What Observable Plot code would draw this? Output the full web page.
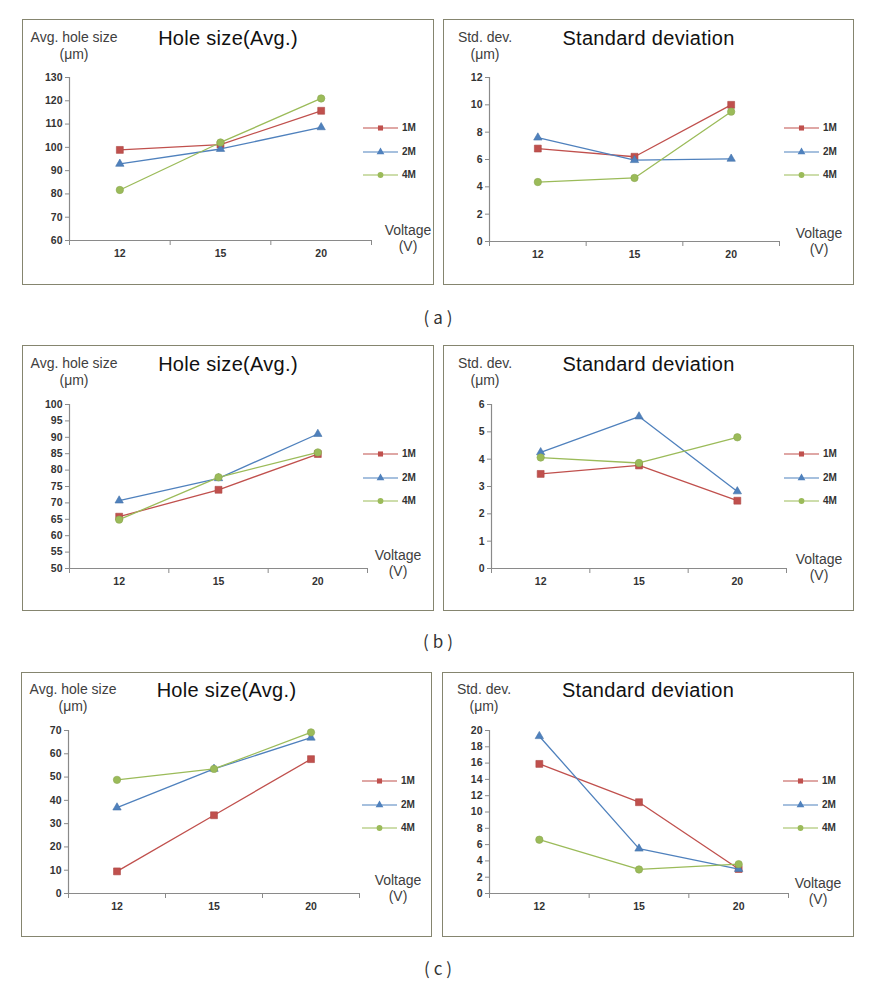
<!DOCTYPE html>
<html>
<head>
<meta charset="utf-8">
<script src="https://cdn.jsdelivr.net/npm/d3@7"></script>
<script src="https://cdn.jsdelivr.net/npm/@observablehq/plot@0.6"></script>
<style>
  html, body { margin: 0; padding: 0; background: #fff; }
  body { position: relative; width: 876px; height: 989px; overflow: hidden; font-family: "Liberation Sans", Arial, sans-serif; }
  .panel { position: absolute; background: #fff; }
  .frame { position: absolute; left: 0; top: 0; right: 0; bottom: 0; border: 1.5px solid #85856f; pointer-events: none; }
  .panel svg.chart { position: absolute; left: 0; top: 0; }
  .title { position: absolute; left: 0; right: 0; text-align: center; font-size: 20px; line-height: 22px; letter-spacing: 0.3px; color: #111; white-space: nowrap; }
  .ylab { position: absolute; width: 120px; text-align: center; font-size: 14px; line-height: 17px; color: #404040; white-space: nowrap; }
  .volt { position: absolute; width: 80px; text-align: center; font-size: 14px; line-height: 16px; color: #404040; white-space: nowrap; }
  .legend { position: absolute; }
  .legrow { position: absolute; left: 0; height: 10px; white-space: nowrap; }
  .legrow svg { position: absolute; left: 0; top: 0; }
  .legrow span { position: absolute; left: 39px; top: -1px; font-size: 10px; font-weight: bold; color: #333; line-height: 12px; }
  .sub { position: absolute; width: 80px; text-align: center; font-family: "Noto Sans CJK KR", "Noto Sans", sans-serif; font-size: 17px; line-height: 20px; letter-spacing: 4px; text-indent: 4px; color: #333; }
</style>
</head>
<body>
<script>
// ---------- data ----------
const voltages = ["12", "15", "20"];
const seriesNames = ["1M", "2M", "4M"];
const seriesColors = ["#C0504D", "#4F81BD", "#9BBB59"];
const seriesSymbols = ["square", "triangle", "circle"];

// (a)
const aAvg1M = [98.9, 101.2, 115.7];
const aAvg2M = [92.9, 99.3, 108.6];
const aAvg4M = [81.7, 102.1, 121.0];
const aAvgTicks = [60, 70, 80, 90, 100, 110, 120, 130];
const aStd1M = [6.8, 6.2, 10.0];
const aStd2M = [7.6, 5.95, 6.05];
const aStd4M = [4.35, 4.65, 9.5];
const aStdTicks = [0, 2, 4, 6, 8, 10, 12];

// (b)
const bAvg1M = [65.8, 74.0, 84.9];
const bAvg2M = [70.7, 77.5, 91.0];
const bAvg4M = [64.9, 77.8, 85.4];
const bAvgTicks = [50, 55, 60, 65, 70, 75, 80, 85, 90, 95, 100];
const bStd1M = [3.46, 3.77, 2.48];
const bStd2M = [4.25, 5.56, 2.82];
const bStd4M = [4.06, 3.86, 4.8];
const bStdTicks = [0, 1, 2, 3, 4, 5, 6];

// (c)
const cAvg1M = [9.5, 33.6, 57.7];
const cAvg2M = [36.9, 53.5, 66.9];
const cAvg4M = [48.8, 53.5, 69.2];
const cAvgTicks = [0, 10, 20, 30, 40, 50, 60, 70];
const cStd1M = [15.9, 11.2, 3.0];
const cStd2M = [19.3, 5.5, 3.0];
const cStd4M = [6.6, 2.95, 3.6];
const cStdTicks = [0, 2, 4, 6, 8, 10, 12, 14, 16, 18, 20];

const avgTitle = "Hole size(Avg.)";
const stdTitle = "Standard deviation";
const avgYLabel = ["Avg. hole size", "(μm)"];
const stdYLabel = ["Std. dev.", "(μm)"];
const xLabel = ["Voltage", "(V)"];
const subLabels = ["(a)", "(b)", "(c)"];

// ---------- layout ----------
const panels = [
  {left: 22, top: 19, w: 412, h: 266, title: avgTitle, ylab: avgYLabel, yc: 52, yt: 10, titleTop: 8,
   series: [aAvg1M, aAvg2M, aAvg4M], ticks: aAvgTicks, m: [58, 63, 45, 47], vc: 386, vt: 203},
  {left: 443, top: 19, w: 411, h: 266, title: stdTitle, ylab: stdYLabel, yc: 42, yt: 10, titleTop: 8,
   series: [aStd1M, aStd2M, aStd4M], ticks: aStdTicks, m: [58, 75, 44, 46], vc: 376, vt: 206},
  {left: 22, top: 345, w: 412, h: 266, title: avgTitle, ylab: avgYLabel, yc: 52, yt: 10, titleTop: 8,
   series: [bAvg1M, bAvg2M, bAvg4M], ticks: bAvgTicks, m: [59, 67, 43, 47], vc: 376, vt: 202},
  {left: 443, top: 345, w: 411, h: 266, title: stdTitle, ylab: stdYLabel, yc: 42, yt: 10, titleTop: 8,
   series: [bStd1M, bStd2M, bStd4M], ticks: bStdTicks, m: [59, 68, 43, 48], vc: 376, vt: 206},
  {left: 21, top: 672, w: 411, h: 265, title: avgTitle, ylab: avgYLabel, yc: 52, yt: 9, titleTop: 7,
   series: [cAvg1M, cAvg2M, cAvg4M], ticks: cAvgTicks, m: [58, 73, 44, 47], vc: 377, vt: 200},
  {left: 442, top: 672, w: 412, h: 265, title: stdTitle, ylab: stdYLabel, yc: 42, yt: 9, titleTop: 7,
   series: [cStd1M, cStd2M, cStd4M], ticks: cStdTicks, m: [58, 66, 44, 47], vc: 376, vt: 203}
];
const symbolR = [3.9, 3.1, 3.7];
const legendRows = [109, 132.5, 156];
const legendLeft = 341;
const subPos = [[438, 307], [438, 631], [438, 958]];

function el(tag, cls, parent) {
  const e = document.createElement(tag);
  if (cls) e.className = cls;
  parent.appendChild(e);
  return e;
}

panels.forEach(p => {
  const div = el("div", "panel", document.body);
  Object.assign(div.style, {left: p.left + "px", top: p.top + "px", width: p.w + "px", height: p.h + "px"});

  const xPos = voltages.map((v, i) => i + 0.5);
  const bounds = voltages.map((v, i) => i).concat([voltages.length]);
  const ymin = p.ticks[0], ymax = p.ticks[p.ticks.length - 1];

  const marks = [
    Plot.axisY({ticks: p.ticks, tickSize: 4, tickPadding: 3, tickFormat: d => String(d), stroke: "#8a8a8a", fill: "#333", label: null}),
    Plot.axisX({ticks: bounds, tickSize: 5, tickFormat: () => "", stroke: "#8a8a8a", label: null}),
    Plot.axisX({ticks: xPos, tickSize: 0, tickPadding: 9, tickFormat: v => voltages[Math.floor(v)], fill: "#333", label: null}),
    Plot.ruleX([0], {stroke: "#8a8a8a", strokeWidth: 1.2}),
    Plot.ruleY([ymin], {stroke: "#8a8a8a", strokeWidth: 1.2})
  ];
  p.series.forEach((vals, k) => {
    const rows = voltages.map((v, i) => ({pos: i + 0.5, value: vals[i], voltage: v, series: seriesNames[k]}));
    marks.push(Plot.line(rows, {x: "pos", y: "value", stroke: seriesColors[k], strokeWidth: 1.3}));
    marks.push(Plot.dot(rows, {x: "pos", y: "value", symbol: seriesSymbols[k], r: symbolR[k], fill: seriesColors[k], stroke: d3.color(seriesColors[k]).darker(0.3).formatHex(), strokeWidth: 0.6}));
  });

  const chart = Plot.plot({
    width: p.w, height: p.h,
    marginTop: p.m[0], marginRight: p.m[1], marginBottom: p.m[2], marginLeft: p.m[3],
    x: {type: "linear", domain: [0, voltages.length], axis: null},
    y: {type: "linear", domain: [ymin, ymax], axis: null},
    style: {fontFamily: "Liberation Sans, Arial, sans-serif", fontSize: "10.5px", fontWeight: "bold", color: "#333", background: "transparent", overflow: "visible"},
    marks
  });
  chart.classList.add("chart");
  div.appendChild(chart);

  const t = el("div", "title", div);
  t.textContent = p.title;
  t.style.top = p.titleTop + "px";

  const yl = el("div", "ylab", div);
  yl.innerHTML = p.ylab.join("<br>");
  yl.style.left = (p.yc - 60) + "px";
  yl.style.top = p.yt + "px";

  const vl = el("div", "volt", div);
  vl.innerHTML = xLabel.join("<br>");
  vl.style.left = (p.vc - 40) + "px";
  vl.style.top = p.vt + "px";

  const lg = el("div", "legend", div);
  lg.style.left = legendLeft + "px";
  lg.style.top = "0px";
  seriesNames.forEach((name, k) => {
    const row = el("div", "legrow", lg);
    row.style.top = (legendRows[k] - 5) + "px";
    const s = d3.create("svg").attr("width", 36).attr("height", 10);
    s.append("line").attr("x1", 0).attr("x2", 35).attr("y1", 5).attr("y2", 5)
      .attr("stroke", seriesColors[k]).attr("stroke-width", 1.2);
    s.append("path").attr("transform", "translate(17.5,5)")
      .attr("d", d3.symbol(d3["symbol" + seriesSymbols[k][0].toUpperCase() + seriesSymbols[k].slice(1)], 26)())
      .attr("fill", seriesColors[k]);
    row.appendChild(s.node());
    const sp = el("span", null, row);
    sp.textContent = name;
  });
  el("div", "frame", div);
});

subLabels.forEach((s, i) => {
  const d = el("div", "sub", document.body);
  d.textContent = s;
  d.style.left = (subPos[i][0] - 40) + "px";
  d.style.top = subPos[i][1] + "px";
});
</script>
</body>
</html>
